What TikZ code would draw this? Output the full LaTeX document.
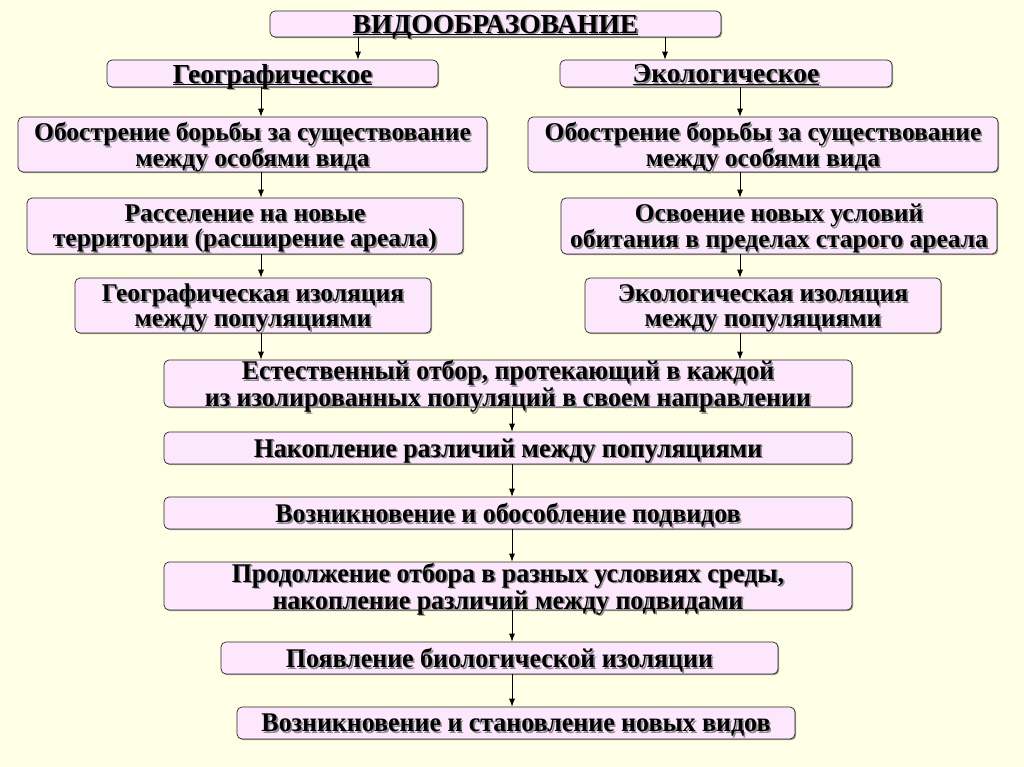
\documentclass[tikz,border=0pt]{standalone}
\usepackage{fontspec}
\setmainfont{Liberation Serif}
\newfontfamily\narrowfont{Liberation Serif}[FakeStretch=0.96]
\usetikzlibrary{arrows.meta, positioning, calc, shadows}
\definecolor{bgyellow}{RGB}{255,255,229}
\definecolor{boxpink}{RGB}{253,231,253}
\definecolor{txtshadow}{RGB}{140,140,140}
% text with a grey offset copy behind it
\newcommand\shd[1]{\leavevmode\rlap{\kern1.6pt\raisebox{-1.6pt}{\textcolor{txtshadow}{#1}}}#1}
% underline just below the baseline, whatever the descenders
\newcommand\ulin[1]{\underline{\smash{#1}}\vphantom{#1}}

\begin{document}
\begin{tikzpicture}[
    x=1pt, y=-1pt,
    stage/.style={draw=black!85, line width=0.7pt, rounded corners=5pt, fill=boxpink,
        drop shadow={shadow xshift=1.2pt, shadow yshift=-1.2pt, fill=black!55, opacity=0.7},
        align=center, inner sep=0pt, text depth=0pt, font=\bfseries\fontsize{25.5}{25}\selectfont},
    headstage/.style={stage, font=\bfseries\fontsize{27.5}{27}\selectfont},
    lowstage/.style={stage, font=\narrowfont\bfseries\fontsize{27}{24}\selectfont},
    arr/.style={-{Latex[length=8pt,width=6pt]}, line width=0.8pt},
    ]

    % background
    \fill[bgyellow] (0,0) rectangle (1024,767);
    \useasboundingbox (0,0) rectangle (1024,767);

    % columns for the arrows
    \coordinate (lx) at (261,0);
    \coordinate (rx) at (740,0);
    \coordinate (cx) at (512,0);
    \coordinate (t1) at (358,0);
    \coordinate (t2) at (665,0);

    % top
    \node[headstage, minimum width=451, minimum height=26] (title) at (495.5,24)
        {\shd{\ulin{ВИДООБРАЗОВАНИЕ}}};
    \node[headstage, minimum width=331, minimum height=27] (geo) at (272.5,73.5)
        {\shd{\ulin{Географическое}}};
    \node[headstage, minimum width=332, minimum height=27] (eco) at (726,73.5)
        {\shd{\ulin{Экологическое}}};

    % geographic branch
    \node[stage, minimum width=469, minimum height=55] (geo1) at (252.5,144.5)
        {\shd{Обострение борьбы за существование}\\\shd{между особями вида}};
    \node[stage, minimum width=436, minimum height=56] (geo2) at (245,226)
        {\shd{Расселение на новые}\\\shd{территории (расширение ареала)}};
    \node[stage, minimum width=356, minimum height=55] (geo3) at (253,305.5)
        {\shd{Географическая изоляция}\\\shd{между популяциями}};

    % ecological branch
    \node[stage, minimum width=470, minimum height=55] (eco1) at (763,144.5)
        {\shd{Обострение борьбы за существование}\\\shd{между особями вида}};
    \node[stage, minimum width=436, minimum height=56] (eco2) at (779,226)
        {\shd{Освоение новых условий}\\\shd{обитания в пределах старого ареала}};
    \node[stage, minimum width=356, minimum height=55] (eco3) at (763,305.5)
        {\shd{Экологическая изоляция}\\\shd{между популяциями}};

    % common part
    \node[lowstage, minimum width=688, minimum height=47] (sel) at (508,383.5)
        {\shd{Естественный отбор, протекающий в каждой}\\\shd{из изолированных популяций в своем направлении}};
    \node[lowstage, minimum width=688, minimum height=32] (accum) at (508,448)
        {\shd{Накопление различий между популяциями}};
    \node[lowstage, minimum width=688, minimum height=32] (subsp) at (508,513)
        {\shd{Возникновение и обособление подвидов}};
    \node[lowstage, minimum width=688, minimum height=48] (cont) at (508,586)
        {\shd{Продолжение отбора в разных условиях среды,}\\\shd{накопление различий между подвидами}};
    \node[lowstage, minimum width=557, minimum height=32] (bio) at (499.5,658)
        {\shd{Появление биологической изоляции}};
    \node[lowstage, minimum width=558, minimum height=32] (newsp) at (516,723)
        {\shd{Возникновение и становление новых видов}};

    % arrows
    \draw[arr] (title.south -| t1) -- (geo.north -| t1);
    \draw[arr] (title.south -| t2) -- (eco.north -| t2);
    \draw[arr] (geo.south -| lx) -- (geo1.north -| lx);
    \draw[arr] (geo1.south -| lx) -- (geo2.north -| lx);
    \draw[arr] (geo2.south -| lx) -- (geo3.north -| lx);
    \draw[arr] (geo3.south -| lx) -- (sel.north -| lx);
    \draw[arr] (eco.south -| rx) -- (eco1.north -| rx);
    \draw[arr] (eco1.south -| rx) -- (eco2.north -| rx);
    \draw[arr] (eco2.south -| rx) -- (eco3.north -| rx);
    \draw[arr] (eco3.south -| rx) -- (sel.north -| rx);
    \draw[arr] (sel.south -| cx) -- (accum.north -| cx);
    \draw[arr] (accum.south -| cx) -- (subsp.north -| cx);
    \draw[arr] (subsp.south -| cx) -- (cont.north -| cx);
    \draw[arr] (cont.south -| cx) -- (bio.north -| cx);
    \draw[arr] (bio.south -| cx) -- (newsp.north -| cx);
\end{tikzpicture}
\end{document}
